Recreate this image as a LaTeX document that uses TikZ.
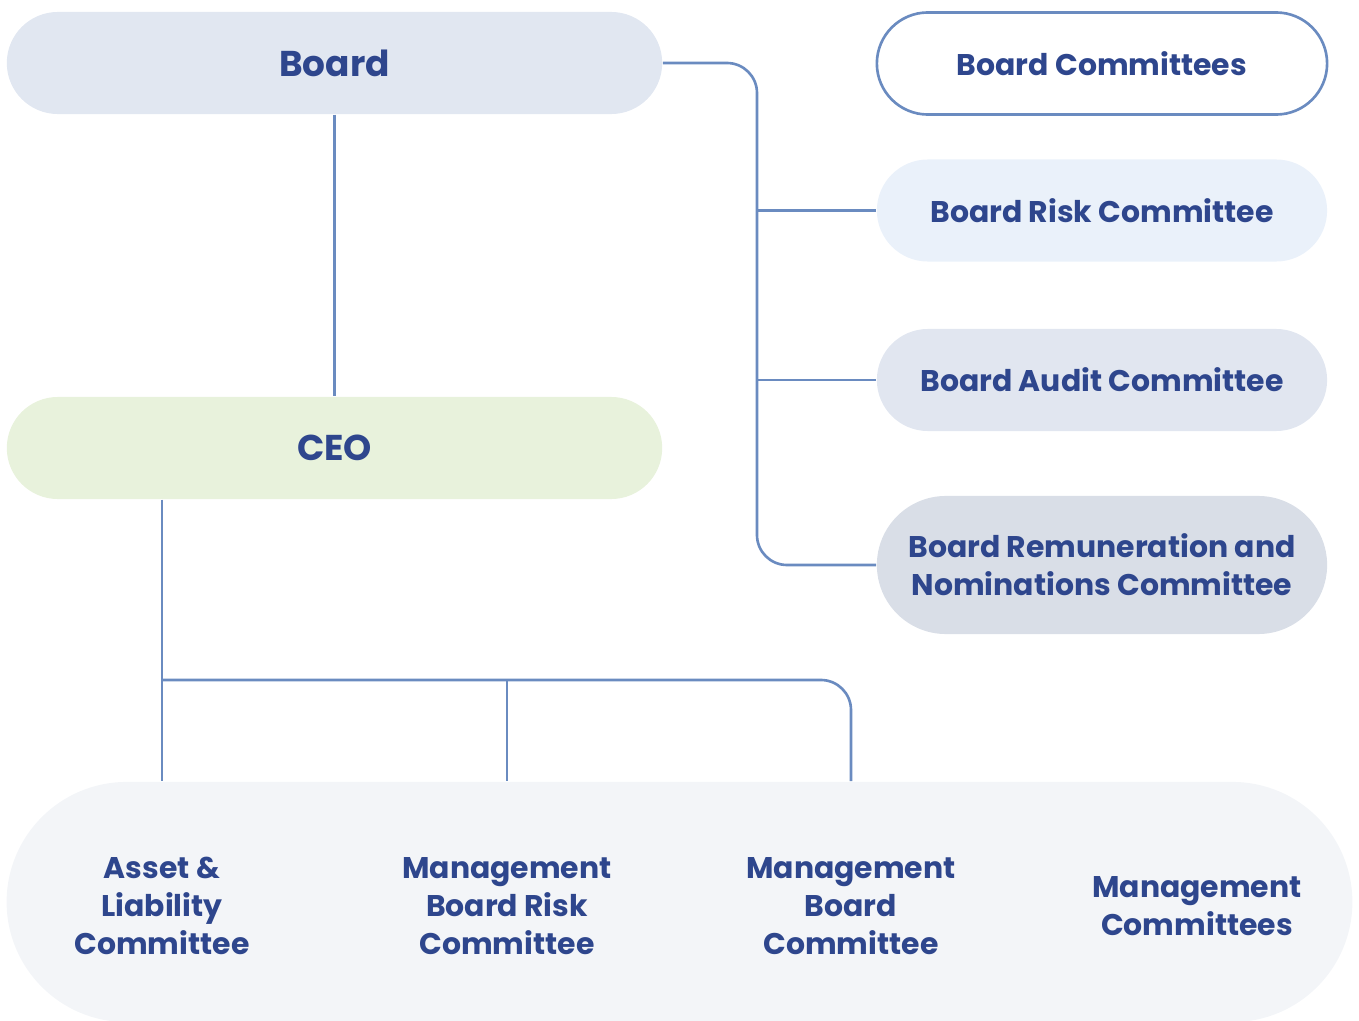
\documentclass[tikz,border=0pt]{standalone}
\usepackage{fontspec}
\setmainfont{Poppins}
\usetikzlibrary{calc}

\definecolor{ink}{RGB}{46,70,141}
\definecolor{wire}{RGB}{106,139,192}
\definecolor{boardfill}{RGB}{225,231,241}
\definecolor{ceofill}{RGB}{232,242,220}
\definecolor{riskfill}{RGB}{234,241,250}
\definecolor{auditfill}{RGB}{225,230,240}
\definecolor{remfill}{RGB}{217,222,231}
\definecolor{mgmtfill}{RGB}{243,245,248}

\tikzset{
	pill/.style={rounded corners=0.51cm, minimum width=4.5cm, minimum height=1.02cm,
		inner sep=0pt, text=ink, align=center, font=\bfseries\fontsize{8.5}{10.8}\selectfont},
	bigpill/.style={pill, minimum width=6.55cm, font=\bfseries\fontsize{10.2}{12}\selectfont},
	label/.style={text=ink, align=center, inner sep=0pt, font=\bfseries\fontsize{8.5}{10.8}\selectfont},
	link/.style={draw=wire, line width=0.75pt, rounded corners=0.3cm}
}

\begin{document}
\begin{tikzpicture}[x=0.01cm, y=-0.01cm]
		%%%%% START %%%%%
		\useasboundingbox (0, 0) rectangle (1359, 1021);
		
		% top of the tree
		\node[bigpill, fill=boardfill] (board) at (334.5, 63) {Board};
		\node[bigpill, fill=ceofill] (ceo) at (334.5, 448) {CEO};
		
		% board committees, right column
		\node[pill, draw=wire, line width=0.75pt, fill=white] (boardcom) at (1102, 63.5) {Board Committees};
		\node[pill, fill=riskfill] (risk) at (1102, 210.5) {Board Risk Committee};
		\node[pill, fill=auditfill] (audit) at (1102, 380) {Board Audit Committee};
		\node[pill, fill=remfill, minimum height=1.38cm, rounded corners=0.69cm] (remun) at (1102, 565)
			{Board Remuneration and\\Nominations Committee};
		
		% management committees, bottom band
		\node[pill, fill=mgmtfill, minimum width=13.45cm, minimum height=2.4cm, rounded corners=1.2cm] (mgmt) at (679.5, 902) {};
		\node[label] (alco) at (162, 906) {Asset \&\\Liability\\Committee};
		\node[label] (mbrc) at (507, 906) {Management\\Board Risk\\Committee};
		\node[label] (mbc) at (851, 906) {Management\\Board\\Committee};
		\node[label] (mc) at (1197, 906) {Management\\Committees};
		
		% board to CEO and to its committees
		\coordinate (trunk) at (757, 63);
		\draw[link] (board) -- (ceo);
		\draw[link] (board.east) -- (trunk) |- (remun.west);
		\draw[link] (risk.west) -- (risk.west -| trunk);
		\draw[link] (audit.west) -- (audit.west -| trunk);
		
		% CEO to the management committees
		\coordinate (bus) at (163, 680);
		\draw[link] (ceo.south -| alco) -- (alco |- mgmt.north);
		\draw[link] (bus) -| (mbc |- mgmt.north);
		\draw[link] (bus -| mbrc) -- (mbrc |- mgmt.north);
		%%%%% END %%%%%
	\end{tikzpicture}
\end{document}
